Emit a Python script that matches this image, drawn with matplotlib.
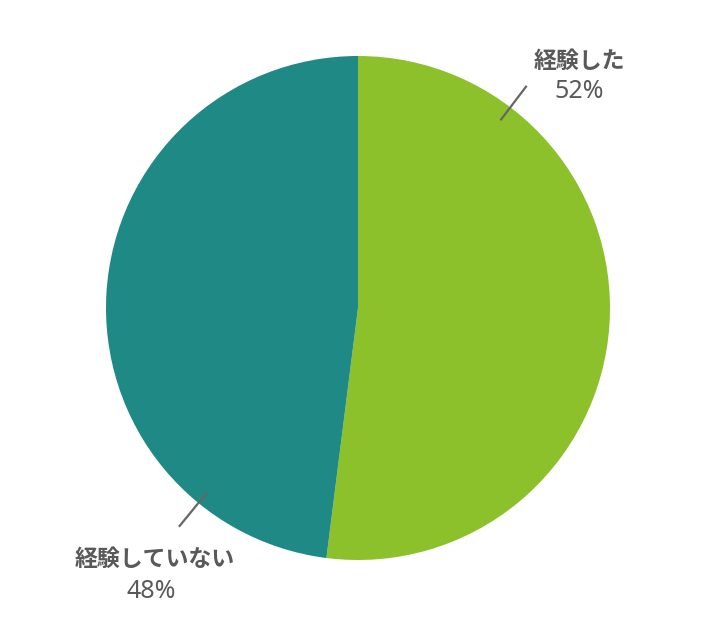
import numpy as np
import matplotlib
matplotlib.use("Agg")
import matplotlib.pyplot as plt

plt.rcParams['font.family'] = ['Noto Sans CJK JP', 'DejaVu Sans']

labels = ["経験した", "経験していない"]
values = [52, 48]
colors = ["#8CC12B", "#1F8985"]

W, H = 710, 630
fig = plt.figure(figsize=(W / 100, H / 100), dpi=100)
ax = fig.add_axes([0, 0, 1, 1])

cx, cy, R = 358, H - 308, 252
ax.pie(values, colors=colors, startangle=90, counterclock=False,
       center=(cx, cy), radius=R, wedgeprops=dict(linewidth=0))
ax.set_xlim(0, W)
ax.set_ylim(0, H)
ax.set_aspect('equal')
ax.axis('off')

# leader lines and labels
line_angles = [52.8, 230.7]  # degrees (math convention)
line_r = [(0.935, 1.107), (0.945, 1.122)]
name_pos = [(579, H - 61.5), (155, H - 559)]
pct_pos = [(579, H - 92), (151, H - 591)]
for lab, v, ang, (r0, r1), (tx, ty), (px, py) in zip(labels, values, line_angles,
                                                      line_r, name_pos, pct_pos):
    a = np.deg2rad(ang)
    ax.plot([cx + r0 * R * np.cos(a), cx + r1 * R * np.cos(a)],
            [cy + r0 * R * np.sin(a), cy + r1 * R * np.sin(a)],
            color="#666666", lw=1.6, solid_capstyle='butt')
    ax.text(tx, ty, lab, ha='center', va='center',
            fontsize=16.5, fontweight='bold', color='#595959')
    ax.text(px, py, f"{v}%", ha='center', va='center',
            fontsize=18, fontweight='normal', color='#595959',
            family=['Noto Sans', 'DejaVu Sans'])

fig.savefig("out.png", dpi=100, facecolor='white')
